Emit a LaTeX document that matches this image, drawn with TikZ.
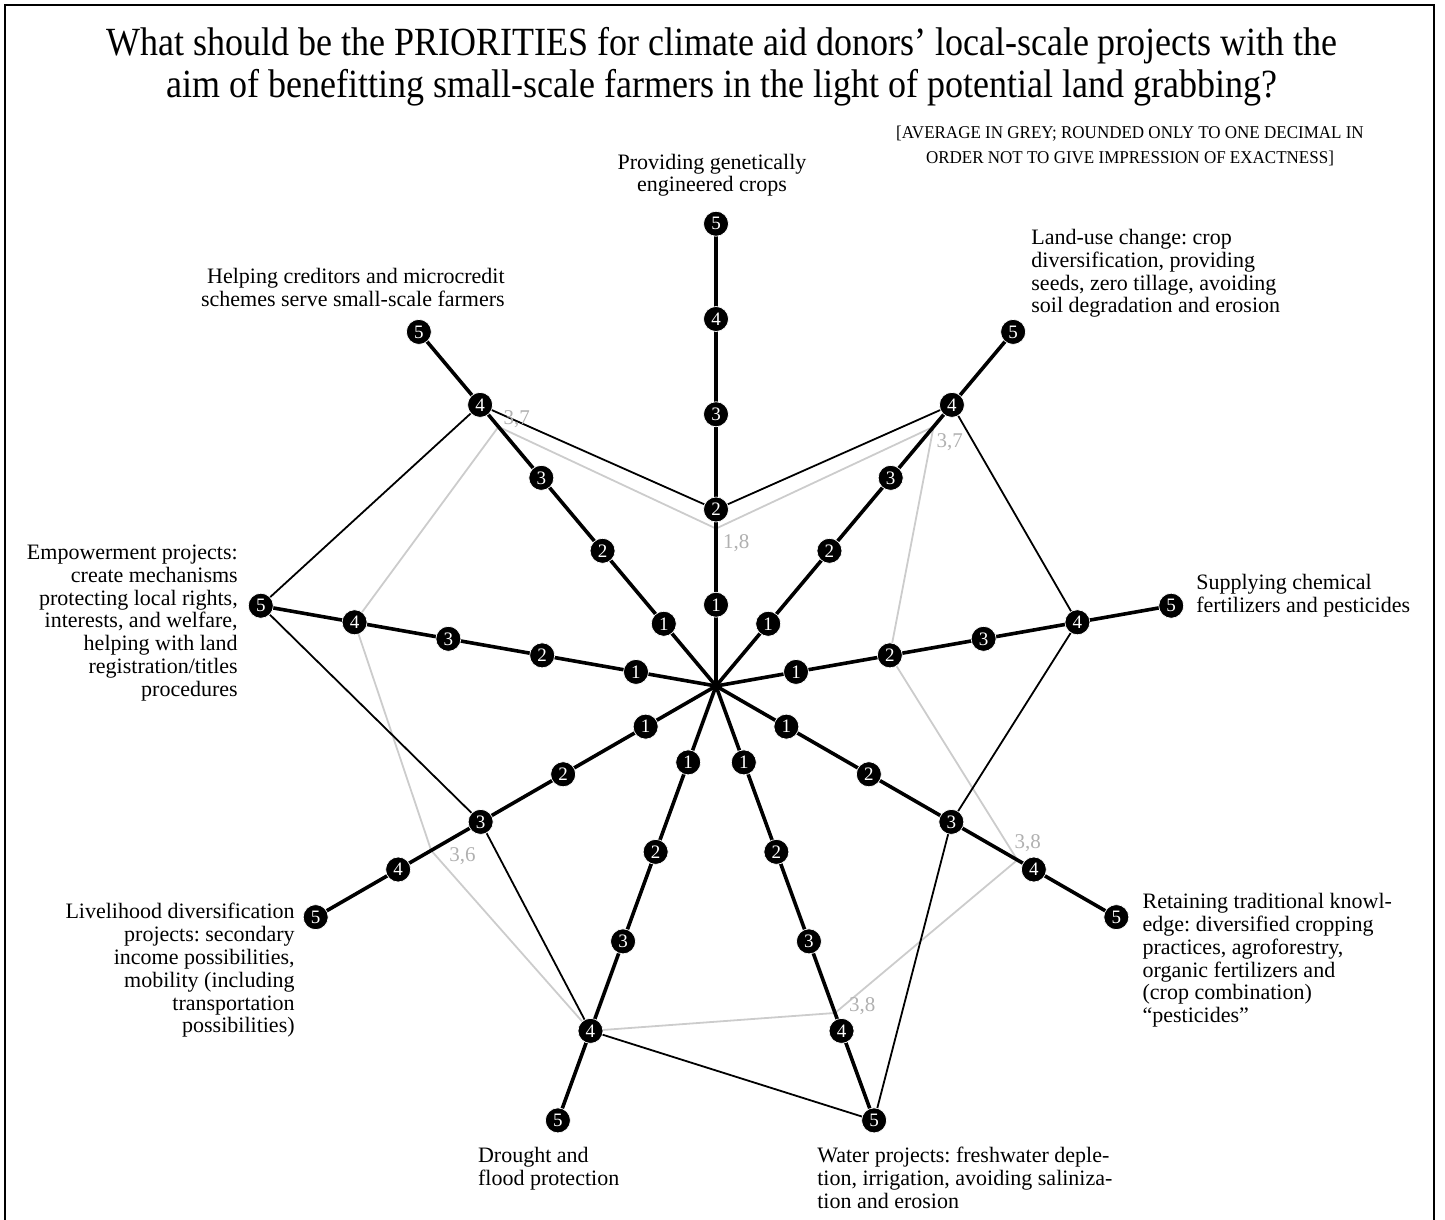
\documentclass[tikz,border=0pt]{standalone}
\usepackage{fontspec}
\setmainfont{Liberation Serif}
\newfontfamily\narrowserif[FakeStretch=0.945]{Liberation Serif}
\newfontfamily\titleserif[FakeStretch=0.9]{Liberation Serif}
\usetikzlibrary{positioning,calc,backgrounds}
\definecolor{avggrey}{RGB}{204,204,204}
\definecolor{avgtext}{RGB}{176,176,176}
\frenchspacing

\begin{document}
\begin{tikzpicture}[
    x=1pt, y=-1pt,
    score/.style={circle, fill=black, draw=white, line width=0.7pt, text=white,
                  minimum size=25pt, inner sep=0pt, font=\fontsize{19}{19}\selectfont},
    spoke/.style={line width=3.6pt, line cap=round},
    answer/.style={line width=1.8pt},
    average/.style={draw=avggrey, line width=1.8pt},
    avgvalue/.style={text=avgtext, inner sep=0pt, font=\fontsize{21}{21}\selectfont},
    topic/.style={inner sep=0pt, font=\fontsize{22}{22.8}\selectfont}
]
\useasboundingbox (0,0) rectangle (1445,1220);

% Frame (open at the bottom)
\draw[line width=2.4pt] (5,1220) -- (5,5) -- (1434,5) -- (1434,1220);

% Title
\node[inner sep=0pt, anchor=north, align=center, font=\titleserif\fontsize{40}{42}\selectfont] (title) at (722,27)
  {What should be the PRIORITIES for climate aid donors’ local-scale projects with the\\
   aim of benefitting small-scale farmers in the light of potential land grabbing?};
\node[inner sep=0pt, anchor=north, align=center, font=\narrowserif\fontsize{18}{25}\selectfont] (note) at (1130,126)
  {[AVERAGE IN GREY; ROUNDED ONLY TO ONE DECIMAL IN\\ORDER NOT TO GIVE IMPRESSION OF EXACTNESS]};

% Spokes: scores 1 to 5
\coordinate (hub) at (716,686);
\foreach \name/\ang in {gm/-90, landuse/-50, chem/-10, trad/30, water/70,
                        drought/110, liveli/150, empower/190, credit/230}
  \foreach \k in {1,...,5}
    \node[score] (\name-\k) at ($(hub)+(\ang:{95.25*\k-14})$) {\k};

% Average values
\foreach \name/\ang/\val in {gm/-90/1.8, landuse/-50/3.7, chem/-10/2.0, trad/30/3.8, water/70/3.8,
                             drought/110/4.0, liveli/150/3.6, empower/190/4.0, credit/230/3.7}
  \coordinate (avg-\name) at ($(hub)+(\ang:{95.25*\val-14})$);

\node[avgvalue, below right=6pt and 7pt of avg-gm] (val-gm) {1,8};
\node[avgvalue, below right=7pt and 3pt of avg-landuse] (val-landuse) {3,7};
\node[avgvalue, above right=8pt and -3pt of avg-trad] (val-trad) {3,8};
\node[avgvalue, above right=-2pt and 14pt of avg-water] (val-water) {3,8};
\node[avgvalue, below right=-3pt and 18pt of avg-liveli] (val-liveli) {3,6};
\node[avgvalue, above right=-1pt and 5pt of avg-credit] (val-credit) {3,7};

% Lines behind the scores
\begin{scope}[on background layer]
\draw[average] (avg-gm) -- (avg-landuse) -- (avg-chem) -- (avg-trad) -- (avg-water)
  -- (avg-drought) -- (avg-liveli) -- (avg-empower) -- (avg-credit) -- cycle;
\draw[answer] (gm-2.center) -- (landuse-4.center) -- (chem-4.center) -- (trad-3.center)
  -- (water-5.center) -- (drought-4.center) -- (liveli-3.center) -- (empower-5.center)
  -- (credit-4.center) -- cycle;
\foreach \name in {gm,landuse,chem,trad,water,drought,liveli,empower,credit}
  \draw[spoke] (hub) -- (\name-5.center);
\end{scope}

% Topics
\node[topic, align=center, above=14pt of gm-5, xshift=-4pt] (cap-gm)
  {Providing genetically\\engineered crops};
\node[topic, align=left, above right=5pt and 9pt of landuse-5] (cap-landuse)
  {Land-use change: crop\\diversification, providing\\seeds, zero tillage, avoiding\\soil degradation and erosion};
\node[topic, align=left, right=12pt of chem-5, yshift=10pt] (cap-chem)
  {Supplying chemical\\fertilizers and pesticides};
\node[topic, align=left, below right=-33pt and 17pt of trad-5] (cap-trad)
  {Retaining traditional knowl-\\edge: diversified cropping\\practices, agroforestry,\\organic fertilizers and\\(crop combination)\\“pesticides”};
\node[topic, align=left, below right=14pt and -57pt of water-5.south] (cap-water)
  {Water projects: freshwater deple-\\tion, irrigation, avoiding saliniza-\\tion and erosion};
\node[topic, align=left, below right=14pt and -80pt of drought-5.south] (cap-drought)
  {Drought and\\flood protection};
\node[topic, align=right, below left=-14pt and 8pt of liveli-5.west] (cap-liveli)
  {Livelihood diversification\\projects: secondary\\income possibilities,\\mobility (including\\transportation\\possibilities)};
\node[topic, align=right, below left=-61pt and 10pt of empower-5.west] (cap-empower)
  {Empowerment projects:\\create mechanisms\\protecting local rights,\\interests, and welfare,\\helping with land\\registration/titles\\procedures};
\node[topic, align=right, above left=12pt and -86pt of credit-5.north] (cap-credit)
  {Helping creditors and microcredit\\schemes serve small-scale farmers};

\end{tikzpicture}
\end{document}
